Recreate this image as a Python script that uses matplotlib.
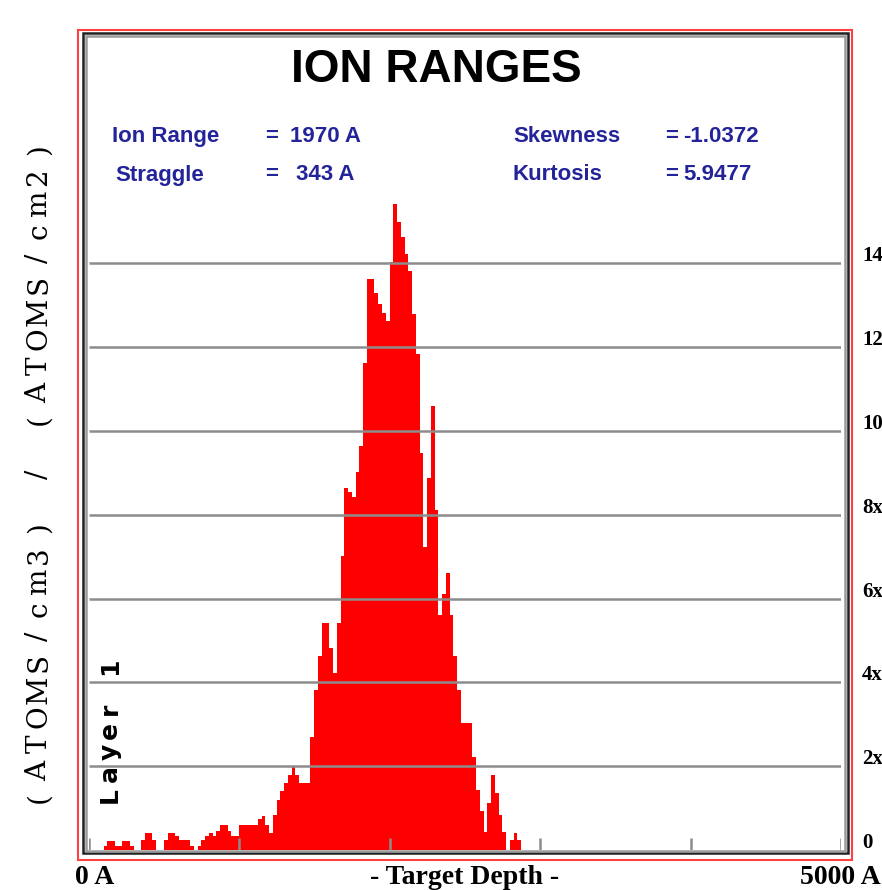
import numpy as np
import matplotlib.pyplot as plt
from matplotlib.patches import Rectangle

# Histogramme des profondeurs (un bin = 25 A)
bin_width = 25
counts = [0, 0, 0, 0, 0.10, 0.22, 0.22, 0.10, 0.10, 0.22,
          0.22, 0.10, 0, 0, 0.24, 0.41, 0.41, 0.24, 0, 0,
          0.24, 0.41, 0.41, 0.33, 0.24, 0.24, 0.24, 0.10, 0, 0.10,
          0.24, 0.33, 0.41, 0.33, 0.46, 0.60, 0.60, 0.46, 0.33, 0.33,
          0.60, 0.60, 0.60, 0.60, 0.60, 0.73, 0.81, 0.60, 0.41, 0.84,
          1.19, 1.42, 1.61, 1.79, 2.00, 1.79, 1.61, 1.61, 1.61, 2.70,
          3.82, 4.63, 5.41, 5.41, 4.81, 4.23, 5.41, 7.02, 8.63, 8.55,
          8.42, 9.03, 9.64, 11.62, 13.62, 13.62, 13.30, 13.03, 12.81, 12.63,
          14.04, 15.42, 15.00, 14.64, 14.22, 13.81, 12.79, 11.84, 9.48, 7.23,
          8.89, 10.60, 8.11, 5.61, 6.11, 6.60, 5.61, 4.63, 3.82, 3.02,
          3.02, 3.02, 2.21, 1.43, 0.92, 0.44, 1.11, 1.79, 1.35, 0.84,
          0.44, 0, 0.24, 0.41, 0.24]

# Axes
depth_ticks = [0, 1000, 2000, 3000, 4000, 5000]
grid_levels = [0, 2, 4, 6, 8, 10, 12, 14]
# seule la partie visible des etiquettes (coupees par le bord dans l'original)
level_labels = ['0', '2x', '4x', '6x', '8x', '10', '12', '14']

# Statistiques
stat_names = ['Ion Range', 'Straggle', 'Skewness', 'Kurtosis']
stat_values = ['1970 A', '343 A', '-1.0372', '5.9477']

W, H = 882, 890
fig = plt.figure(figsize=(W / 100, H / 100), dpi=100)


def fx(px):
    return px / W


def fy(py):
    return 1 - py / H


# zone de tracé : 0 A a x=88.5 px, 5000 A a x=841 px ; 0 a y=850 px
ax = fig.add_axes([fx(88.5), fy(850), fx(841) - fx(88.5), fy(35.5) - fy(850)])
ax.set_xlim(0, 5000)
ax.set_ylim(0, (850 - 35.5) / 41.9)
ax.axis('off')

edges = np.arange(len(counts) + 1) * bin_width
ax.stairs(counts, edges, fill=True, color='#ff0000', lw=0, zorder=2)
ax.hlines(grid_levels[1:], 0, 5000, color='#8c8c8c', lw=1.8, zorder=3)
ax.vlines(depth_ticks, 0, 12 / 41.9, color='#8c8c8c', lw=1.8, zorder=3)

# cadres : rouge exterieur, noir + gris interieur
fig.add_artist(Rectangle((fx(78), fy(859.5)), fx(852) - fx(78), fy(30) - fy(859.5),
                         transform=fig.transFigure, fill=False, ec='#ff4040', lw=1.5))
fig.add_artist(Rectangle((fx(83), fy(853.3)), fx(847.5) - fx(83), fy(33) - fy(853.3),
                         transform=fig.transFigure, fill=False, ec='#202020', lw=1.8))
fig.add_artist(Rectangle((fx(85.5), fy(850.5)), fx(845) - fx(85.5), fy(35.5) - fy(850.5),
                         transform=fig.transFigure, fill=False, ec='#9a9a9a', lw=1.8, zorder=4))

# titre
fig.text(fx(436), fy(70), 'ION RANGES', family='Liberation Sans', weight='bold',
         fontsize=33, ha='center', va='center', color='black')

blue = '#23239a'
rows = [(142, 112, stat_names[0], 290, stat_values[0]),
        (180.5, 115, stat_names[1], 296, stat_values[1]),
        (142, 513, stat_names[2], 683, stat_values[2]),
        (180.5, 513, stat_names[3], 683, stat_values[3])]
for y, xn, name, xv, val in rows:
    eq_x = 265 if xn < 300 else 665
    for x, s in [(xn, name), (eq_x, '='), (xv, val)]:
        fig.text(fx(x), fy(y), s, family='Liberation Sans', weight='bold',
                 fontsize=16, color=blue, ha='left', va='baseline')

# etiquettes de droite
for lev, lab in zip(grid_levels, level_labels):
    py = 850 - lev * 41.9 - 7
    fig.text(fx(862), fy(py), lab, family='Liberation Serif', weight='bold',
             fontsize=15, ha='left', va='center')

# axe des profondeurs
fig.text(fx(75), fy(877), '0 A', family='Liberation Serif', weight='bold',
         fontsize=20, ha='left', va='center')
fig.text(fx(465), fy(877), '- Target Depth -', family='Liberation Serif', weight='bold',
         fontsize=20, ha='center', va='center')
fig.text(fx(881), fy(877), '5000 A', family='Liberation Serif', weight='bold',
         fontsize=20, ha='right', va='center')

# etiquette verticale, caractere par caractere
ylabel = '(ATOMS/cm3) / (ATOMS/cm2)'
for i, ch in enumerate(ylabel):
    fig.text(fx(39), fy(798 - i * 27.0), ch, family='DejaVu Serif', fontsize=20,
             rotation=90, ha='center', va='center')

layer = 'Layer 1'
for i, ch in enumerate(layer):
    fig.text(fx(110), fy(795 - i * 21.5), ch, family='DejaVu Sans', fontsize=18,
             weight='bold', rotation=90, ha='center', va='center')

fig.savefig('out.png', dpi=100)
